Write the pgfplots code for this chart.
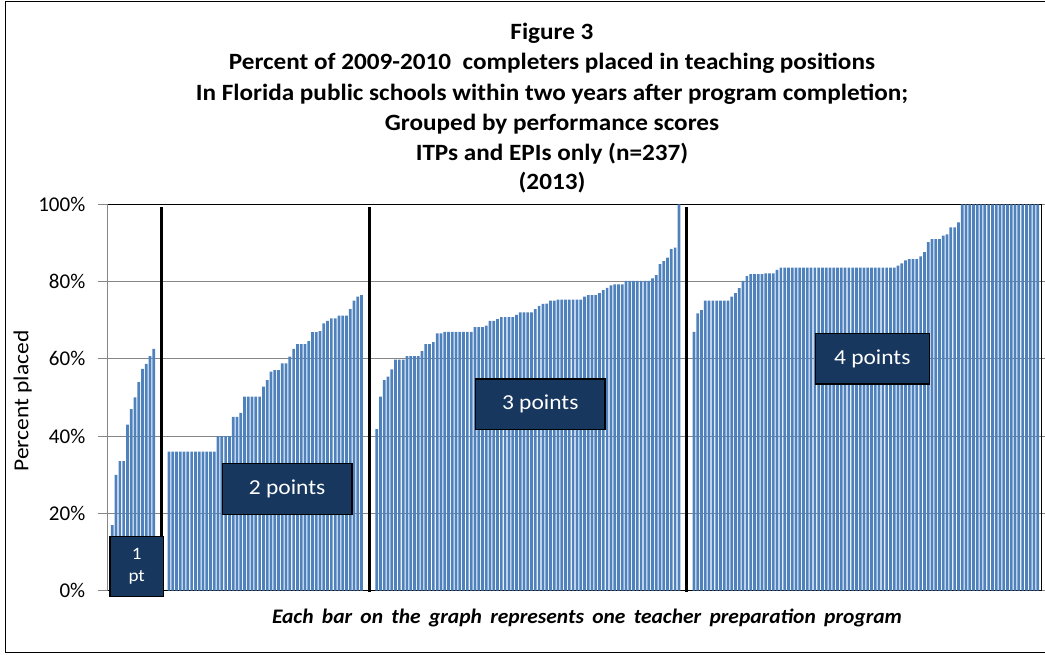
\documentclass[border=0pt]{standalone}
\usepackage{fontspec}
\setmainfont{Carlito}
\newfontfamily\titlefont[FakeStretch=1.08]{Carlito}
\newfontfamily\capfont[FakeStretch=1.04]{Carlito}
\newfontfamily\boxfont[FakeStretch=1.1]{Carlito}
\usepackage{pgfplots}
\usepackage{pgfplotstable}
\pgfplotsset{compat=1.18}
\definecolor{barblue}{HTML}{4F81BD}
\definecolor{boxnavy}{HTML}{17375E}
\definecolor{gridgray}{HTML}{868686}

\pgfplotstableread[row sep=\\]{y\\17\\30\\33.5\\33.5\\43\\47\\50\\54\\57.4\\58.7\\60.7\\62.6\\}\onept
\pgfplotstableread[row sep=\\]{y\\36\\36\\36\\36\\36\\36\\36\\36\\36\\36\\36\\36\\36\\40\\40\\40\\40\\45\\45\\46\\50.2\\50.2\\50.2\\50.2\\50.2\\52.8\\54.5\\56.7\\57.1\\57.1\\58.8\\58.8\\60.6\\62.6\\63.8\\63.8\\63.8\\64.6\\66.9\\66.9\\67.2\\69.2\\69.8\\70.5\\70.5\\71.2\\71.2\\71.2\\72.9\\75.1\\76.1\\76.5\\}\twopt
\pgfplotstableread[row sep=\\]{y\\41.8\\50.2\\54.5\\55.4\\57.3\\59.8\\59.8\\59.8\\60.7\\60.7\\60.7\\60.7\\62\\63.8\\63.8\\64.3\\66.6\\66.6\\67\\67\\67\\67\\67\\67\\67\\67\\68.2\\68.2\\68.2\\68.6\\69.8\\69.8\\70.3\\70.8\\70.8\\70.8\\70.8\\71.4\\72\\72\\72\\72\\72.9\\73.7\\74.2\\74.3\\75.1\\75.1\\75.3\\75.3\\75.3\\75.3\\75.3\\75.3\\75.3\\76.1\\76.5\\76.5\\76.5\\77\\77.8\\78.4\\79\\79.3\\79.3\\79.3\\80.2\\80.2\\80.2\\80.2\\80.2\\80.2\\80.2\\80.8\\81.7\\84.5\\85.3\\86.2\\88.4\\88.8\\100\\}\threept
\pgfplotstableread[row sep=\\]{y\\67\\71.8\\72.6\\75.1\\75.1\\75.1\\75.1\\75.1\\75.1\\75.1\\76.1\\77\\78.3\\80.2\\81.4\\81.9\\81.9\\81.9\\81.9\\82.1\\82.1\\82.1\\83\\83.6\\83.6\\83.6\\83.6\\83.6\\83.6\\83.6\\83.6\\83.6\\83.6\\83.6\\83.6\\83.6\\83.6\\83.6\\83.6\\83.6\\83.6\\83.6\\83.6\\83.6\\83.6\\83.6\\83.6\\83.6\\83.6\\83.6\\83.6\\83.6\\83.6\\83.6\\84.1\\84.7\\85.5\\85.8\\85.8\\85.8\\86.5\\87.6\\90.2\\91\\91\\91\\91.9\\92.2\\94\\94\\95.3\\100\\100\\100\\100\\100\\100\\100\\100\\100\\100\\100\\100\\100\\100\\100\\100\\100\\100\\100\\100\\100\\}\fourpt

\begin{document}
\begin{tikzpicture}[x=0.75pt,y=0.75pt]
\useasboundingbox (0,0) rectangle (1045,655);
\draw[black, line width=0.75pt] (5,2) rectangle (1060,653);
% title
\begin{scope}[every node/.style={anchor=base, inner sep=0pt, font=\titlefont\fontsize{17.5}{20}\selectfont\bfseries}]
\node at (552,615) {Figure 3};
\node at (552,585) {Percent of 2009-2010\ \ completers placed in teaching positions};
\node at (552,554.5) {In Florida public schools within two years after program completion;};
\node at (552,524) {Grouped by performance scores};
\node at (552,494.5) {ITPs and EPIs only (n=237)};
\node at (552,465) {(2013)};
\end{scope}
\node[rotate=90, anchor=base, inner sep=0pt, font=\boxfont\fontsize{16}{18}\selectfont] at (28.3,254) {Percent placed};
\node[anchor=base, inner sep=0pt, font=\capfont\fontsize{15.5}{19}\selectfont\bfseries\itshape] at (587,31) {\makebox[472.5pt][s]{Each bar on the graph represents one teacher preparation program}};

\begin{axis}[
  at={(80.775pt,48.225pt)}, anchor=south west,
  scale only axis, width=700pt, height=289.8pt,
  xmin=-1.22, xmax=245.88, ymin=0, ymax=100,
  xtick=\empty,
  ytick={0,20,40,60,80,100},
  yticklabels={0\%,20\%,40\%,60\%,80\%,100\%},
  yticklabel style={font=\fontsize{15.75}{18}\selectfont, xshift=-6pt},
  ymajorgrids, grid style={gridgray, line width=0.75pt},
  axis line style={black, line width=0.75pt},
  tick align=outside, major tick length=7.3pt,
  ytick style={gridgray, line width=0.75pt},
  clip=false,
]
\addplot[ybar, bar width=0.72, bar shift=0pt, fill=barblue, draw=none] table[x expr=\coordindex, y=y] {\onept};
\addplot[ybar, bar width=0.72, bar shift=0pt, fill=barblue, draw=none] table[x expr=\coordindex+15, y=y] {\twopt};
\addplot[ybar, bar width=0.72, bar shift=0pt, fill=barblue, draw=none] table[x expr=\coordindex+70, y=y] {\threept};
\addplot[ybar, bar width=0.72, bar shift=0pt, fill=barblue, draw=none] table[x expr=\coordindex+154, y=y] {\fourpt};
\draw[gridgray, line width=0.9pt] (rel axis cs:0,0) -- (rel axis cs:0,1);
\addplot[black, line width=2.2pt] coordinates {(13,-1.5) (13,99.2)};
\addplot[black, line width=2.2pt] coordinates {(68,-0.3) (68,99.2)};
\addplot[black, line width=2.2pt] coordinates {(152,-0.3) (152,99.2)};
\node[draw=black, line width=0.9pt, fill=boxnavy, text=white, minimum width=40pt, minimum height=45pt, inner sep=0pt, align=center, font=\boxfont\fontsize{13}{16.5}\selectfont] at (axis cs:6.45,6.2) {1\\pt};
\node[draw=black, line width=0.9pt, fill=boxnavy, text=white, minimum width=97.3pt, minimum height=38.25pt, inner sep=0pt, font=\boxfont\fontsize{16}{18}\selectfont] at (axis cs:46.3,26.4) {2 points};
\node[draw=black, line width=0.9pt, fill=boxnavy, text=white, minimum width=97pt, minimum height=37.7pt, inner sep=0pt, font=\boxfont\fontsize{16}{18}\selectfont] at (axis cs:113.3,48.3) {3 points};
\node[draw=black, line width=0.9pt, fill=boxnavy, text=white, minimum width=85.7pt, minimum height=38pt, inner sep=0pt, font=\boxfont\fontsize{16}{18}\selectfont] at (axis cs:201.2,60.05) {4 points};
\end{axis}
\end{tikzpicture}
\end{document}
